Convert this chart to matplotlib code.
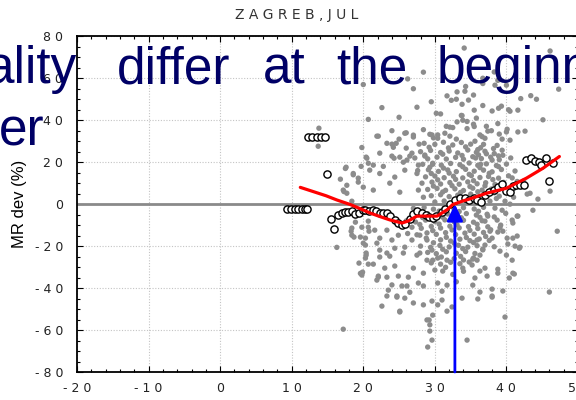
import matplotlib
matplotlib.use("Agg")
import matplotlib.pyplot as plt
from matplotlib.ticker import MultipleLocator, FixedLocator

# ---- data -------------------------------------------------------------
# individual daily observations: (temperature, MR deviation %)
obs = [
    # upper part of the cloud
    (34.1, 74.4), (46.1, 73.0), (28.4, 62.9), (20.0, 57.0), (26.2, 59.7), (27.0, 55.0),
    (22.6, 46.0), (20.7, 40.4), (27.5, 46.2), (25.0, 41.4), (29.5, 48.8), (31.7, 51.6),
    (32.3, 49.5), (33.1, 53.5), (34.3, 56.1), (35.4, 52.0), (34.7, 49.6), (36.7, 57.5),
    (38.3, 63.0), (38.8, 59.0), (40.0, 56.7), (42.0, 50.3), (43.4, 51.7), (44.2, 50.0),
    (47.3, 54.8), (45.1, 40.2), (39.3, 46.7), (40.3, 45.0), (38.0, 44.4), (35.5, 44.8),
    (33.7, 42.3), (33.1, 39.2), (32.1, 36.7), (31.6, 37.1), (30.2, 43.3), (30.8, 43.0),
    (33.9, 40.0), (35.4, 38.1), (37.2, 37.1), (38.8, 38.4), (41.6, 34.4), (42.6, 34.8),
    (40.0, 34.4), (26.0, 34.0), (27.0, 32.9), (22.1, 32.4), (29.3, 33.3), (36.7, 60.0),
    (38.4, 56.7), (41.6, 44.8), (40.5, 44.3), (38.9, 45.7), (36.7, 47.0), (40.1, 35.7),
    (40.5, 30.5), (39.4, 31.0), (38.7, 28.0), (39.4, 25.7), (39.5, 23.3), (35.5, 37.0),
    (37.4, 34.8), (37.0, 31.4), (21.9, 32.4), (25.8, 33.8), (29.6, 33.0), (33.0, 50.0),
    (33.8, 47.6), (34.2, 53.8), (33.8, 42.2), (34.5, 39.4), (32.5, 36.5), (32.1, 32.4),
    (30.4, 33.0), (30.4, 31.4), (24.0, 28.6), (24.6, 29.0), (26.0, 26.7), (24.0, 22.9),
    (24.3, 21.9), (27.8, 28.6), (26.5, 22.9), (28.6, 22.9), (27.7, 18.6), (25.6, 20.0),
    (29.7, 19.0), (22.8, 18.0), (21.4, 18.6), (13.8, 36.2), (13.7, 27.6), (19.8, 27.0),
    (20.4, 22.4), (17.6, 17.6), (16.8, 11.9), (17.7, 9.0), (18.6, 14.0), (19.3, 12.4),
    (19.7, 18.0), (20.7, 19.5), (20.9, 16.2), (35.6, 30.0), (36.0, 26.0), (35.7, 22.0),
    (36.4, 19.0), (37.2, 24.0), (38.0, 21.0), (36.8, 28.5), (38.2, 26.5), (35.8, 41.0),
    (36.3, 33.0), (27.0, 32.0), (28.4, 35.5), (29.8, 31.6), (31.4, 33.8), (33.0, 31.0),
    (34.5, 36.0), (36.6, 32.2), (37.9, 35.0), (39.0, 33.4), (25.0, 31.0), (24.0, 35.0),
    (17.5, 17.0), (17.2, 6.7), (18.6, 14.6), (19.3, 10.5), (20.5, 21.9), (22.3, 14.6),
    (23.7, 10.0), (24.4, 12.9), (25.1, 5.7), (25.8, 16.2), (26.1, 21.0), (26.8, 24.3),
    (27.5, 14.6), (27.7, 6.7), (28.4, 3.3), (22.3, 24.3), (23.3, 29.0), (24.2, 27.1),
    (25.1, 22.4), (20.0, 8.1), (21.4, 6.7), (17.3, 6.0), (17.7, 5.2), (18.4, 1.4),
    (42.9, 4.8), (43.3, 5.2), (46.1, 6.2), (44.4, 2.4), (43.7, -2.9), (47.1, -12.9),
    (46.0, -41.9), (40.5, 0.0), (39.8, 1.4), (39.4, -2.9), (38.4, -1.9),
    # dense core
    (28.5, 29.0), (30.0, 28.5), (31.2, 29.5), (32.5, 28.2), (33.7, 29.4), (35.0, 28.6),
    (28.0, 25.0), (29.4, 25.6), (30.8, 24.6), (32.0, 25.3), (33.2, 24.4), (34.6, 25.8),
    (35.8, 24.7), (37.0, 25.2), (38.3, 24.1), (27.2, 22.0), (29.0, 21.6), (30.3, 22.4),
    (31.6, 21.5), (32.9, 22.3), (34.0, 21.4), (35.3, 22.6), (36.5, 21.7), (37.8, 22.4),
    (39.0, 21.2), (40.6, 22.0), (28.3, 19.0), (29.7, 19.5), (30.9, 18.6), (32.2, 19.4),
    (33.5, 18.8), (34.8, 19.6), (36.0, 18.5), (37.2, 19.2), (38.6, 18.4), (40.0, 19.1),
    (27.6, 16.0), (29.1, 16.4), (30.5, 15.6), (31.8, 16.3), (33.0, 15.5), (34.3, 16.6),
    (35.5, 15.7), (36.8, 16.2), (38.0, 15.4), (39.3, 16.5), (41.2, 15.8), (28.7, 13.0),
    (30.0, 13.4), (31.3, 12.6), (32.6, 13.3), (33.9, 12.5), (35.1, 13.6), (36.3, 12.7),
    (37.5, 13.2), (38.9, 12.4), (40.3, 13.5), (28.2, 10.0), (29.6, 10.5), (30.8, 9.6),
    (32.1, 10.3), (33.4, 9.5), (34.6, 10.6), (35.9, 9.7), (37.1, 10.2), (38.4, 9.4),
    (39.6, 10.4), (41.5, 10.8), (29.0, 7.0), (30.3, 7.5), (31.5, 6.6), (32.8, 7.3),
    (34.0, 6.5), (35.3, 7.6), (36.6, 6.7), (37.9, 7.2), (40.8, 12.5), (42.4, 11.0),
    (29.5, 4.0), (30.8, 4.5), (32.0, 3.6), (33.2, 4.3), (35.0, 4.8), (36.2, 3.5),
    (37.4, 4.2), (39.0, 3.8), (41.0, 3.3), (30.0, 1.0), (31.3, 1.5), (32.6, 0.6),
    (34.5, 1.2), (36.0, 0.5), (37.7, 1.4), (27.0, -2.0), (28.5, -1.6), (29.8, -2.4),
    (31.3, -1.8), (32.7, -2.6), (34.0, -1.7), (35.5, -2.3), (36.8, -1.5), (27.6, -5.0),
    (29.0, -4.6), (30.4, -5.4), (31.8, -4.7), (33.1, -5.3), (34.4, -4.5), (35.8, -5.2),
    (37.3, -4.8), (39.9, -4.4), (26.0, -8.0), (27.3, -8.5), (28.7, -7.6), (30.0, -8.3),
    (31.4, -7.5), (32.7, -8.4), (34.0, -7.7), (35.4, -8.6), (36.6, -7.9), (26.8, -11.0),
    (28.1, -11.5), (29.5, -10.6), (30.8, -11.4), (32.1, -10.5), (33.4, -11.3), (34.7, -10.7),
    (36.0, -11.6), (37.4, -10.8), (39.1, -11.2), (26.2, -14.0), (27.5, -14.6), (28.9, -13.7),
    (30.2, -14.4), (31.5, -13.6), (32.9, -14.5), (34.2, -13.8), (35.5, -14.3), (36.8, -13.5),
    (30.8, -17.0), (32.2, -17.6), (33.5, -16.7), (34.9, -17.4), (36.2, -16.6), (37.6, -17.3),
    (28.0, -20.0), (29.4, -20.6), (30.7, -19.7), (32.0, -20.4), (33.3, -19.6), (34.6, -20.5),
    (35.9, -19.8), (38.3, -20.3), (29.0, -23.0), (30.2, -23.6), (31.6, -22.7), (33.0, -23.4),
    (34.3, -22.6), (35.6, -23.5), (32.7, -26.0), (34.0, -26.6), (35.4, -25.7), (29.5, -28.0),
    (30.8, -28.6), (32.2, -27.7), (33.5, -28.4), (34.8, -27.6),
    # further core observations between the rows above
    (29.2, 27.1), (31.9, 26.8), (34.3, 27.3), (36.4, 26.9), (28.6, 23.4), (31.1, 23.8),
    (33.8, 23.2), (36.1, 23.5), (38.9, 23.0), (29.3, 17.6), (31.2, 17.2), (33.9, 17.8),
    (36.3, 17.4), (38.9, 17.9), (29.5, 14.6), (32.0, 14.8), (34.8, 14.2), (37.6, 14.7),
    (30.4, 11.6), (32.9, 11.8), (35.4, 11.2), (38.1, 11.7), (29.8, 8.6), (32.4, 8.8),
    (34.9, 8.4), (37.0, 8.7), (39.2, 8.2), (31.1, 5.8), (33.6, 5.6), (36.0, 5.9),
    (38.3, 5.4), (33.6, 2.3), (35.2, 2.6), (38.6, 2.7), (28.2, -3.6), (30.6, -3.3),
    (33.4, -3.5), (36.1, -3.4), (28.3, -6.4), (31.1, -6.2), (33.7, -6.5), (36.3, -6.3),
    (38.3, -6.1), (27.9, -9.7), (30.6, -9.5), (33.1, -9.8), (35.9, -9.6), (29.7, -12.6),
    (32.4, -12.3), (34.9, -12.5), (37.8, -12.2), (28.8, -16.2), (31.6, -15.8), (34.4, -15.9),
    (37.1, -15.4), (29.8, -18.4), (32.7, -18.6), (35.4, -18.3), (31.1, -21.5), (33.9, -21.2),
    (36.7, -21.8), (30.9, -25.2), (33.6, -24.9), (31.5, -30.1), (33.9, -30.5),
    # lower part of the cloud
    (41.1, -33.3), (40.4, -35.2), (39.5, -41.4), (38.0, -40.5), (38.0, -43.8), (36.0, -45.2),
    (40.8, -26.7), (40.0, -24.3), (41.8, -21.0), (41.2, -20.0), (40.2, -19.0), (39.1, -22.4),
    (41.5, -15.2), (40.9, -16.2), (40.1, -16.2), (39.5, -12.9), (38.8, -13.3), (41.5, -5.7),
    (40.8, -7.6), (41.6, -5.7), (39.2, -10.0), (38.7, -7.6), (37.4, -5.7), (37.0, -8.1),
    (38.8, -31.0), (37.0, -30.5), (37.3, -34.3), (36.3, -31.9), (35.3, -38.6), (35.6, -35.2),
    (37.7, -12.9), (38.0, -16.2), (37.0, -19.5), (36.7, -21.4), (35.9, -17.1), (36.3, -24.3),
    (35.2, -29.0), (35.9, -26.7), (35.3, -26.2), (22.6, -48.6), (25.1, -51.0), (29.3, -60.5),
    (29.2, -55.2), (28.4, -48.0), (29.6, -46.2), (27.0, -47.1), (25.8, -44.8), (23.3, -43.8),
    (24.7, -43.8), (25.4, -39.0), (26.1, -39.0), (22.1, -34.3), (23.3, -34.8), (24.9, -34.3),
    (26.3, -34.8), (27.7, -37.6), (28.4, -39.0), (30.4, -37.6), (31.7, -38.6), (31.0, -45.7),
    (30.4, -48.0), (29.7, -52.9), (31.7, -51.0), (21.4, -28.6), (23.0, -30.5), (24.4, -29.5),
    (27.0, -30.5), (28.4, -32.9), (30.0, -31.4), (31.1, -31.9), (23.7, -24.8), (22.3, -21.9),
    (25.6, -23.3), (27.5, -24.3), (28.9, -26.7), (30.4, -25.7), (31.7, -26.7), (19.6, -33.0),
    (19.8, -33.8), (19.9, -32.4), (20.4, -24.3), (20.7, -28.6), (21.9, -36.2), (22.1, -34.8),
    (23.5, -41.0), (24.7, -44.3), (25.1, -51.4), (28.9, -55.2), (29.6, -64.8), (29.0, -68.1),
    (34.5, -64.8), (39.8, -53.8), (32.4, -49.0), (33.8, -44.8), (36.3, -41.9), (38.0, -44.3),
    (38.8, -32.9), (40.9, -32.9), (41.9, -20.5), (40.9, -9.0), (18.4, -11.4), (18.4, -14.8),
    (19.6, -15.7), (20.7, -11.0), (21.6, -12.4), (22.3, -16.2), (23.3, -12.4), (24.0, -17.1),
    (24.9, -14.8), (24.4, -21.0), (25.8, -20.5), (26.8, -17.1), (27.9, -14.8), (28.9, -17.1),
    (18.9, -8.6), (22.3, -25.2), (23.3, -23.3), (20.0, -18.6), (21.9, -18.6), (27.9, -23.3),
    (29.6, -21.9), (29.7, -26.7), (16.3, -20.6), (17.2, -59.6), (18.3, -12.9), (18.7, -15.7),
    (19.8, -11.0), (20.3, -16.2), (20.3, -19.5), (20.4, -23.3), (20.3, -25.7), (19.4, -28.1),
    (19.8, -32.9), (20.7, -8.1), (20.8, -12.9), (29.3, -57.5), (31.0, -41.5), (33.0, -37.0),
    (26.5, -42.0), (24.0, -38.5), (34.0, -32.0), (32.5, -33.5),
]
temp = [p[0] for p in obs]
dev = [p[1] for p in obs]

# temperature-binned mean deviations
bin_temp = [9.4, 9.9, 10.4, 10.9, 11.4, 11.8, 12.2,
            12.3, 12.9, 13.5, 14.1, 14.7, 15.0, 15.5, 15.9,
            16.5, 17.0, 17.5, 17.9, 18.4, 18.9, 19.4, 19.9, 20.3, 20.8, 21.4, 21.8,
            22.3, 22.8, 23.3, 23.8, 24.4, 24.9, 25.4, 25.8, 26.5, 27.0, 27.5, 28.2,
            28.7, 29.2, 29.8, 30.2, 31.0, 31.4, 32.1, 32.8, 33.5, 34.2, 34.8, 35.4,
            35.9, 36.4, 37.0, 37.6, 38.2, 38.8, 39.4, 40.0, 40.5, 40.9, 41.4, 41.9, 42.4,
            42.8, 43.5, 44.0, 44.5, 44.9, 45.5, 46.5, 46.0]
bin_dev = [-2.4, -2.4, -2.4, -2.4, -2.4, -2.4, -2.4,
           32.0, 32.0, 32.0, 32.0, 32.0, 14.3, -7.1, -11.9,
           -5.2, -4.3, -3.8, -3.8, -3.5, -4.5, -4.0, -3.0, -3.0, -3.5, -2.7, -3.5,
           -4.3, -4.3, -4.3, -5.5, -7.5, -9.0, -10.0, -9.5, -7.0, -4.7, -3.2, -4.3,
           -5.2, -6.2, -6.7, -5.7, -3.7, -2.2, 0.0, 2.1, 2.9, 2.9, 2.0, 2.9,
           2.0, 1.0, 4.4, 6.0, 6.8, 8.0, 9.5, 6.5, 6.0, 8.5, 9.2, 9.0, 9.0,
           21.1, 22.2, 20.6, 19.9, 18.7, 21.9, 19.5, 10.8]

# smoothed trend
trend_temp = [11.2, 13.0, 14.8, 16.3, 18.2, 19.6, 21.0, 22.4, 23.7, 25.4, 26.3, 27.5,
              29.0, 30.3, 31.7, 32.5, 33.9, 34.9, 37.2, 39.1, 40.0, 42.8, 45.1, 47.4]
trend_dev = [8.0, 6.0, 4.0, 2.0, -0.2, -2.2, -4.3, -6.0, -7.5, -9.0, -8.0, -5.7,
             -5.7, -5.7, -2.7, -0.2, 1.5, 2.5, 5.2, 6.8, 7.6, 12.4, 17.1, 22.7]

threshold_temp = 32.8

x_ticks = [-20, -10, 0, 10, 20, 30, 40, 50]
y_ticks = [-80, -60, -40, -20, 0, 20, 40, 60, 80]


def spaced(v):
    s = str(v)
    if s.startswith("-"):
        return "- " + " ".join(s[1:])
    return " ".join(s)


narrow = ["Liberation Sans Narrow", "DejaVu Sans"]

# ---- figure -------------------------------------------------------------
W, H = 576, 400
fig = plt.figure(figsize=(W / 100, H / 100), dpi=100)
fig.patch.set_facecolor("white")
ax = fig.add_axes([77 / W, 28 / H, 501 / W, 335.7 / H])
ax.set_xlim(-20, 50)
ax.set_ylim(-80, 80)

ax.xaxis.set_major_locator(FixedLocator(x_ticks))
ax.yaxis.set_major_locator(FixedLocator(y_ticks))
ax.xaxis.set_minor_locator(MultipleLocator(2))
ax.yaxis.set_minor_locator(MultipleLocator(5))
ax.set_xticklabels([spaced(v) for v in x_ticks], fontfamily=narrow, fontsize=9, color="#222222")
ax.set_yticklabels([spaced(v) for v in y_ticks], fontfamily=narrow, fontsize=9, color="#222222")
ax.tick_params(which="both", direction="in", top=True, right=True, width=0.8, color="black")
ax.tick_params(which="major", length=4)
ax.tick_params(which="minor", length=2.5)
ax.tick_params(axis="y", pad=10)
ax.tick_params(axis="x", pad=7)

for s in ax.spines.values():
    s.set_linewidth(1.3)
    s.set_color("black")

ax.grid(True, which="major", color="#c4c4c4", linestyle=(0, (1, 1.5)), linewidth=0.8)
ax.set_axisbelow(True)

ax.axhline(0, color="#8a8a8a", linewidth=2, zorder=1.5)

ax.scatter(temp, dev, s=15, color="#8c8c8c", edgecolors="none", zorder=2)
ax.scatter(bin_temp, bin_dev, s=27, facecolors="white", edgecolors="black",
           linewidths=1.0, zorder=3)
ax.plot(trend_temp, trend_dev, color="#ff0000", linewidth=2.3, zorder=4,
        solid_capstyle="round")

ax.annotate("", xy=(threshold_temp, 0), xytext=(threshold_temp, -80),
            arrowprops=dict(arrowstyle="-|>,head_length=0.5,head_width=0.24",
                            color="#0000ff", lw=2.0, mutation_scale=20,
                            shrinkA=0, shrinkB=0),
            zorder=6, annotation_clip=False)

ax.set_ylabel("MR dev (%)", fontsize=12, fontfamily="Liberation Sans", labelpad=2)
ax.yaxis.set_label_coords(-50 / 501, 0.5)

fig.text(297 / W, 1 - 15 / H, "Z A G R E B , J U L", ha="center", va="center",
         fontsize=10, fontfamily=narrow, color="#333333")

# overlaid caption words
navy = "#000066"
words = [(-14, 83, "ality"), (117, 83, "differ"), (263, 83, "at"),
         (336, 83, "the"), (437, 83, "beginn"), (-1, 145, "er")]
for px, py, w in words:
    fig.text(px / W, 1 - py / H, w, ha="left", va="baseline", fontsize=37,
             fontfamily="Liberation Sans", color=navy, zorder=10)

fig.savefig("out.png", dpi=100)
